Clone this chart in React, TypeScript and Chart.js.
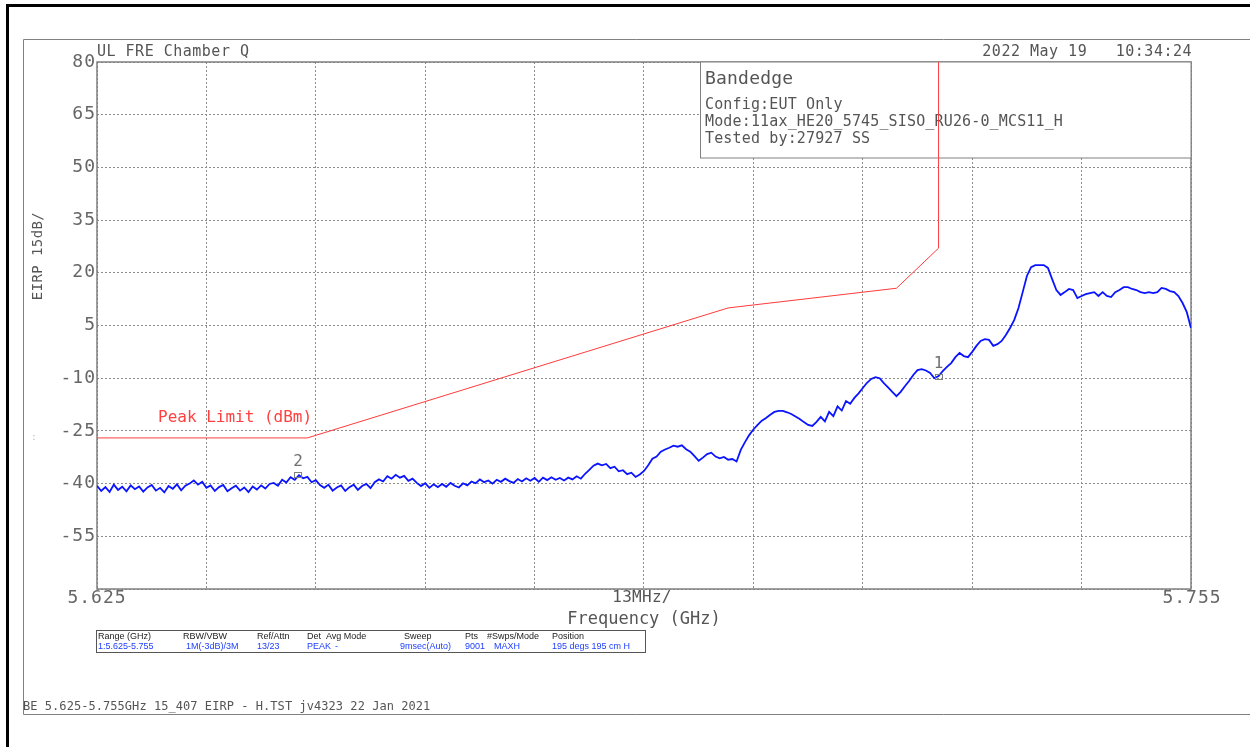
import React, { useEffect, useRef } from 'react';
import { Chart, registerables } from 'chart.js';

Chart.register(...registerables);

// ---------------- data ----------------
const F_START = 5.625; // GHz
const F_STOP = 5.755; // GHz
const F_STEP = 0.0005; // GHz between trace samples
const X_DIVISIONS = 10;
const Y_MIN = -70;
const Y_MAX = 80;
const Y_TICK_VALUES = [80, 65, 50, 35, 20, 5, -10, -25, -40, -55, -70];
const Y_TICK_LABELS = ['80', '65', '50', '35', '20', '5', '-10', '-25', '-40', '-55'];
const X_LABEL_LEFT = '5.625';
const X_LABEL_RIGHT = '5.755';
const X_LABEL_MID = '13MHz/';

// measured trace (dBm), one value per 0.5 MHz from 5.625 GHz
const TRACE_DBM = [
  -40.6, -42.1, -41.0, -42.4, -40.3, -41.8, -40.9, -42.2, -40.5, -41.6,
  -40.8, -42.3, -41.1, -40.4, -42.0, -41.2, -42.5, -40.7, -41.5, -40.2,
  -41.9, -40.6, -40.0, -39.1, -40.3, -39.5, -41.2, -40.5, -42.1, -41.0,
  -40.4, -42.2, -41.3, -40.6, -42.0, -41.1, -42.4, -40.8, -41.7, -40.5,
  -41.4, -40.1, -39.8, -40.6, -38.9, -39.7, -38.2, -38.9, -37.6, -38.5,
  -38.1, -39.6, -39.0, -40.4, -41.2, -40.3, -42.0, -41.1, -40.5, -42.1,
  -41.0, -40.3, -41.8, -40.7, -40.1, -41.3, -39.6, -38.8, -39.4, -37.9,
  -38.6, -37.5, -38.3, -37.8, -39.2, -38.6, -39.8, -40.7, -39.9, -41.2,
  -40.2, -41.0, -40.1, -40.9, -39.8, -40.6, -41.1, -39.9, -40.5, -39.4,
  -39.9, -38.8, -39.6, -39.1, -40.0, -38.9, -39.5, -38.6, -39.3, -39.8,
  -38.7, -39.4, -38.5, -39.2, -38.4, -39.5, -38.3, -39.0, -38.2, -38.9,
  -38.4, -39.1, -38.3, -38.8, -37.9, -38.6, -37.2, -36.1, -34.9, -34.3,
  -34.8, -34.4, -35.6, -35.2, -36.5, -36.2, -37.3, -36.9, -38.1, -37.4,
  -36.4, -34.8, -32.9, -32.3, -30.9, -30.3, -29.8, -29.2, -29.5, -29.1,
  -30.2, -30.9, -32.2, -33.5, -32.6, -31.6, -31.2, -32.3, -32.8, -32.4,
  -33.2, -33.0, -33.7, -30.4, -28.2, -26.2, -24.6, -23.3, -22.1, -21.3,
  -20.4, -19.6, -19.3, -19.3, -19.7, -20.2, -20.9, -21.6, -22.5, -23.3,
  -23.6, -22.4, -21.0, -22.3, -19.6, -20.8, -18.0, -19.2, -16.5, -17.3,
  -15.6, -14.3, -12.8, -11.3, -10.2, -9.7, -10.0, -11.4, -12.6, -13.9,
  -15.1, -13.9, -12.3, -10.8, -9.1, -7.7, -7.4, -7.8, -8.5, -10.0,
  -9.4, -8.0, -6.8, -5.7, -4.0, -2.8, -3.7, -4.0, -2.5, -0.8,
  0.6, 1.1, 0.9, -0.8, -0.3, 0.6, 2.3, 4.3, 6.6, 10.0,
  14.5, 19.1, 21.6, 22.2, 22.2, 22.2, 21.4, 18.2, 15.1, 13.7,
  14.5, 15.4, 15.1, 12.8, 13.4, 13.9, 14.2, 14.5, 13.4, 14.5,
  13.4, 13.1, 14.5, 15.1, 15.9, 15.9, 15.4, 15.1, 14.5, 14.2,
  14.5, 14.2, 14.5, 15.7, 15.4, 14.8, 14.5, 13.4, 11.4, 8.8,
  4.3,
];

const LIMIT_FREQ = [5.625, 5.65, 5.7, 5.72, 5.725, 5.725];
const LIMIT_DBM = [-27, -27, 10, 15.6, 27, 80];
const LIMIT_LABEL = 'Peak Limit (dBm)';

const MARKER_IDS = ['1', '2'];
const MARKER_FREQ = [5.725, 5.6489];
const MARKER_DBM = [-9.7, -37.6];

const HEADER_LEFT = 'UL FRE Chamber Q';
const HEADER_RIGHT = '2022 May 19   10:34:24';
const Y_TITLE = 'EIRP 15dB/';
const X_TITLE = 'Frequency (GHz)';
const BOX_TITLE = 'Bandedge';
const BOX_LINES = ['Config:EUT Only', 'Mode:11ax_HE20_5745_SISO_RU26-0_MCS11_H', 'Tested by:27927 SS'];
const TABLE_HEADS = ['Range (GHz)', 'RBW/VBW', 'Ref/Attn', 'Det', 'Avg Mode', 'Sweep', 'Pts', '#Swps/Mode', 'Position'];
const TABLE_VALUES = ['1:5.625-5.755', '1M(-3dB)/3M', '13/23', 'PEAK', '-', '9msec(Auto)', '9001', 'MAXH', '195 degs 195 cm H'];
const FOOTER = 'BE 5.625-5.755GHz 15_407 EIRP - H.TST jv4323 22 Jan 2021';

// ---------------- drawing helpers ----------------
const MONO = '"DejaVu Sans Mono", "Liberation Mono", monospace';
const NARROW = '"Liberation Sans", "DejaVu Sans", sans-serif';
const TEXT = '#555555';
const FRAME = '#808080';

function txt(
  ctx: CanvasRenderingContext2D,
  s: string,
  x: number,
  y: number,
  font: string,
  color: string,
  align: CanvasTextAlign = 'left',
  spacing = 0,
) {
  ctx.save();
  ctx.font = font;
  ctx.fillStyle = color;
  ctx.textAlign = align;
  ctx.textBaseline = 'middle';
  try {
    (ctx as any).letterSpacing = spacing + 'px';
  } catch (e) {}
  ctx.fillText(s, x, y);
  ctx.restore();
}

const TABLE_HEAD_X = [98, 183, 257, 307, 326, 404, 465, 487, 552];
const TABLE_VAL_X = [98, 186, 257, 307, 335, 400, 465, 494, 552];

const decorPlugin = {
  id: 'decor',
  beforeDraw(chart: any) {
    const ctx: CanvasRenderingContext2D = chart.ctx;
    const { width, height } = chart;
    const xs = chart.scales.x;
    const ys = chart.scales.y;
    const area = chart.chartArea;
    ctx.save();
    ctx.fillStyle = '#ffffff';
    ctx.fillRect(0, 0, width, height);
    // outer black frame
    ctx.fillStyle = '#000000';
    ctx.fillRect(6, 4, width - 6, 3);
    ctx.fillRect(6, 4, 3, height - 4);
    // inner gray frame
    ctx.strokeStyle = FRAME;
    ctx.lineWidth = 1;
    ctx.beginPath();
    ctx.moveTo(width, 39.5);
    ctx.lineTo(23.5, 39.5);
    ctx.lineTo(23.5, 714.5);
    ctx.lineTo(width, 714.5);
    ctx.stroke();
    ctx.restore();

    // header
    txt(ctx, HEADER_LEFT, area.left, 52, `15px ${MONO}`, TEXT, 'left', 0.5);
    txt(ctx, HEADER_RIGHT, area.right + 1, 52, `15px ${MONO}`, TEXT, 'right', 0.5);

    // y tick labels
    Y_TICK_LABELS.forEach((lab, i) => {
      const py = ys.getPixelForValue(Y_TICK_VALUES[i]);
      txt(ctx, lab, area.left - 1, py, `18px ${MONO}`, '#666666', 'right', 1);
    });
    // x labels
    const xl = xs.getPixelForValue(F_START);
    const xr = xs.getPixelForValue(F_STOP);
    txt(ctx, X_LABEL_LEFT, xl, area.bottom + 9, `18px ${MONO}`, '#666666', 'center', 1);
    txt(ctx, X_LABEL_RIGHT, xr + 1, area.bottom + 9, `18px ${MONO}`, '#666666', 'center', 1);
    txt(ctx, X_LABEL_MID, (xl + xr) / 2 - 2, area.bottom + 9, `16px ${MONO}`, TEXT, 'center', 0.3);
    txt(ctx, X_TITLE, (xl + xr) / 2, area.bottom + 31, `17px ${MONO}`, TEXT, 'center', 0);

    // y title (rotated)
    ctx.save();
    ctx.translate(38, 256);
    ctx.rotate(-Math.PI / 2);
    txt(ctx, Y_TITLE, 0, 0, `14px ${MONO}`, TEXT, 'center', 0.4);
    ctx.restore();
    txt(ctx, ':', 34, 438, `8px ${MONO}`, '#b0b0b0', 'center');

    // settings table
    ctx.save();
    ctx.strokeStyle = '#555555';
    ctx.lineWidth = 1;
    ctx.strokeRect(96.5, 630.5, 549, 22);
    ctx.restore();
    TABLE_HEADS.forEach((h, i) => txt(ctx, h, TABLE_HEAD_X[i], 636.5, `9px ${NARROW}`, '#222222'));
    TABLE_VALUES.forEach((v, i) => txt(ctx, v, TABLE_VAL_X[i], 647, `9px ${NARROW}`, '#2040ff'));

    // footer
    txt(ctx, FOOTER, 23, 707, `12px ${MONO}`, TEXT, 'left', 0.05);
  },
  beforeDatasetsDraw(chart: any) {
    const ctx: CanvasRenderingContext2D = chart.ctx;
    const area = chart.chartArea;
    ctx.save();
    ctx.strokeStyle = FRAME;
    ctx.lineWidth = 1.5;
    ctx.strokeRect(area.left, area.top, area.right - area.left, area.bottom - area.top);
    // info box
    const bx = 700.5;
    const by = area.top;
    const bw = area.right - bx;
    const bh = 96;
    ctx.fillStyle = '#ffffff';
    ctx.fillRect(bx, by, bw, bh);
    ctx.lineWidth = 1;
    ctx.strokeRect(bx, by, bw, bh);
    ctx.restore();
    txt(ctx, BOX_TITLE, 705, 79, `18px ${MONO}`, TEXT, 'left', 0.2);
    BOX_LINES.forEach((l, i) => txt(ctx, l, 705, 105 + i * 17, `15px ${MONO}`, TEXT, 'left', 0.15));
  },
  afterDatasetsDraw(chart: any) {
    const ctx: CanvasRenderingContext2D = chart.ctx;
    const xs = chart.scales.x;
    const ys = chart.scales.y;
    // limit label
    txt(ctx, LIMIT_LABEL, 158, ys.getPixelForValue(LIMIT_DBM[0]) - 20, `16px ${MONO}`, '#ff4040', 'left', 0);
    // markers
    MARKER_IDS.forEach((id, i) => {
      const px = xs.getPixelForValue(MARKER_FREQ[i]);
      const py = ys.getPixelForValue(MARKER_DBM[i]);
      ctx.save();
      ctx.strokeStyle = '#808080';
      ctx.lineWidth = 1;
      ctx.strokeRect(Math.round(px) - 3.5, Math.round(py) - 2.5, 7, 5);
      ctx.restore();
      txt(ctx, id, px, py - 13, `16px ${MONO}`, '#707070', 'center');
    });
  },
};

export default function App() {
  const ref = useRef<HTMLCanvasElement | null>(null);
  useEffect(() => {
    if (!ref.current) return;
    const limitData = LIMIT_FREQ.map((f, i) => ({ x: f, y: LIMIT_DBM[i] }));
    const traceData = TRACE_DBM.map((v, i) => ({ x: F_START + i * F_STEP, y: v }));
    const chart = new Chart(ref.current, {
      type: 'line',
      data: {
        datasets: [
          {
            label: LIMIT_LABEL,
            data: limitData,
            borderColor: '#ff3b3b',
            borderWidth: 1,
            pointRadius: 0,
            tension: 0,
          },
          {
            label: 'Trace',
            data: traceData,
            borderColor: '#0a14ff',
            borderWidth: 1.8,
            pointRadius: 0,
            tension: 0,
          },
        ],
      },
      options: {
        animation: false,
        responsive: false,
        maintainAspectRatio: false,
        events: [],
        layout: { padding: { left: 97, top: 62, right: 59, bottom: 158 } },
        plugins: { legend: { display: false }, tooltip: { enabled: false } },
        scales: {
          x: {
            type: 'linear',
            min: F_START,
            max: F_STOP,
            afterBuildTicks: (s: any) => {
              const t = [];
              for (let k = 0; k <= X_DIVISIONS; k++) t.push({ value: F_START + (k * (F_STOP - F_START)) / X_DIVISIONS });
              s.ticks = t;
            },
            ticks: { display: false },
            grid: { color: '#8c8c8c', lineWidth: 1, drawTicks: false },
            border: { display: false, dash: [2, 2] },
          },
          y: {
            type: 'linear',
            min: Y_MIN,
            max: Y_MAX,
            afterBuildTicks: (s: any) => {
              s.ticks = Y_TICK_VALUES.map((v) => ({ value: v }));
            },
            ticks: { display: false },
            grid: { color: '#8c8c8c', lineWidth: 1, drawTicks: false },
            border: { display: false, dash: [2, 2] },
          },
        },
      },
      plugins: [decorPlugin],
    });
    return () => chart.destroy();
  }, []);
  return (
    <div style={{ position: 'absolute', left: 0, top: 0, width: 1250, height: 747, background: '#fff' }}>
      <canvas ref={ref} width={1250} height={747} style={{ display: 'block' }} />
    </div>
  );
}
